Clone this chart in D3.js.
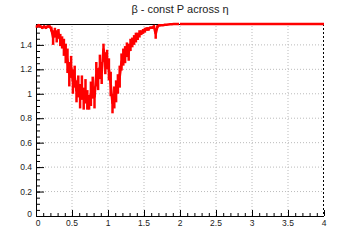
<!DOCTYPE html>
<html>
<head>
<meta charset="utf-8">
<script src="https://cdn.jsdelivr.net/npm/d3@7"></script>
<style>
  body { margin: 0; background: #fff; }
  svg { display: block; font-family: "Liberation Sans", Arial, sans-serif; }
</style>
</head>
<body>
<div id="chart"></div>
<script>
// bin centres (eta) and beta values, bin width 0.025
const binWidth = 0.025;
const betaValues = [
  1.55, 1.56, 1.55, 1.54, 1.55, 1.54, 1.55, 1.55, 1.53, 1.46,
  1.50, 1.47, 1.49, 1.44, 1.42, 1.38, 1.33, 1.27, 1.16, 1.22,
  1.10, 1.14, 1.02, 1.06, 0.98, 1.05, 0.96, 1.02, 0.95, 0.93,
  1.00, 1.05, 0.97, 1.16, 1.12, 1.22, 1.17, 1.37, 1.25, 1.28,
  1.20, 1.08, 0.92, 0.97, 1.02, 1.08, 1.14, 1.26, 1.30, 1.32,
  1.36, 1.34, 1.40, 1.42, 1.44, 1.46, 1.47, 1.49, 1.50, 1.51,
  1.52, 1.53, 1.53, 1.54, 1.54, 1.55, 1.49, 1.55, 1.56, 1.56,
  1.56, 1.565, 1.565, 1.567, 1.568, 1.569, 1.57, 1.57, 1.5708, 1.5708
];
const betaErrors = [
  0.01, 0.01, 0.01, 0.01, 0.01, 0.01, 0.01, 0.01, 0.02, 0.06,
  0.04, 0.05, 0.04, 0.05, 0.05, 0.07, 0.08, 0.10, 0.10, 0.09,
  0.10, 0.09, 0.09, 0.09, 0.10, 0.10, 0.09, 0.10, 0.08, 0.06,
  0.10, 0.09, 0.09, 0.10, 0.09, 0.10, 0.09, 0.04, 0.09, 0.08,
  0.09, 0.10, 0.08, 0.09, 0.09, 0.08, 0.09, 0.07, 0.07, 0.07,
  0.06, 0.07, 0.05, 0.04, 0.04, 0.04, 0.03, 0.03, 0.02, 0.02,
  0.02, 0.015, 0.015, 0.01, 0.01, 0.01, 0.04, 0.01, 0.01, 0.005,
  0.005, 0.004, 0.004, 0.003, 0.002, 0.002, 0.001, 0.001, 0, 0
];
const plateauEta = [2.0, 4.0];
const plateauBeta = [1.5708, 1.5708];

const xTicks = [0, 0.5, 1, 1.5, 2, 2.5, 3, 3.5, 4];
const yTicks = [0, 0.2, 0.4, 0.6, 0.8, 1, 1.2, 1.4];
const titleText = 'β - const P across η';

const width = 360, height = 240;
const margin = {left: 36, right: 36, top: 24, bottom: 24};

const svg = d3.select('#chart').append('svg')
  .attr('width', width).attr('height', height);

const x = d3.scaleLinear().domain([0, 4]).range([margin.left, width - margin.right]);
const y = d3.scaleLinear().domain([0, 1.5708]).range([height - margin.bottom, margin.top]);

// grid
svg.append('g').selectAll('line').data(xTicks.slice(1, -1)).enter().append('line')
  .attr('x1', d => x(d)).attr('x2', d => x(d))
  .attr('y1', y(0)).attr('y2', y.range()[1])
  .attr('stroke', '#bbb').attr('stroke-dasharray', '1,2');
svg.append('g').selectAll('line').data(yTicks.slice(1)).enter().append('line')
  .attr('x1', x(0)).attr('x2', x(4))
  .attr('y1', d => y(d)).attr('y2', d => y(d))
  .attr('stroke', '#bbb').attr('stroke-dasharray', '1,2');

// frame top / right
svg.append('line').attr('x1', x(0)).attr('x2', x(4)).attr('y1', y.range()[1] + 0.5).attr('y2', y.range()[1] + 0.5)
  .attr('stroke', '#000');
svg.append('line').attr('x1', x(4) - 0.5).attr('x2', x(4) - 0.5).attr('y1', y.range()[1]).attr('y2', y(0))
  .attr('stroke', '#000').attr('stroke-dasharray', '2,2');

// axes
const xMinor = d3.range(0, 4.0001, 0.1);
const yMinor = d3.range(0, 1.56, 0.05);

const xAxis = svg.append('g').attr('transform', `translate(0,${y(0)})`);
xAxis.call(d3.axisTop(x).tickValues(xMinor).tickSize(3).tickFormat(''));
xAxis.call(g => g.select('.domain').remove());
xAxis.append('g').call(d3.axisTop(x).tickValues(xTicks).tickSize(6).tickFormat(''))
  .call(g => g.select('.domain').remove());
xAxis.append('line').attr('x1', x(0)).attr('x2', x(4)).attr('y1', 0.5).attr('y2', 0.5).attr('stroke', '#000');
xAxis.selectAll('.xlab').data(xTicks).enter().append('text')
  .attr('class', 'xlab')
  .attr('x', d => x(d) + (d === 0 ? 2 : 0)).attr('y', 9.5)
  .attr('text-anchor', 'middle').attr('font-size', 8.5).attr('fill', '#222')
  .text(d => d3.format('')(d));

const yAxis = svg.append('g').attr('transform', `translate(${x(0)},0)`);
yAxis.call(d3.axisRight(y).tickValues(yMinor).tickSize(4).tickFormat(''))
  .call(g => g.select('.domain').remove());
yAxis.append('g').call(d3.axisRight(y).tickValues(yTicks).tickSize(8).tickFormat(''))
  .call(g => g.select('.domain').remove());
yAxis.append('line').attr('x1', 0.5).attr('x2', 0.5).attr('y1', y.range()[1]).attr('y2', y(0)).attr('stroke', '#000');
yAxis.selectAll('.ylab').data(yTicks).enter().append('text')
  .attr('class', 'ylab')
  .attr('x', -4).attr('y', d => y(d) + 3 - (d === 0 ? 2 : 0))
  .attr('text-anchor', 'end').attr('font-size', 8.5).attr('fill', '#222')
  .text(d => d3.format('')(d));

svg.selectAll('.tick line').attr('stroke', '#000');

// data
const pts = betaValues.map((v, i) => ({eta: (i + 0.5) * binWidth, v: v, e: betaErrors[i]}));

svg.append('g').selectAll('line').data(pts).enter().append('line')
  .attr('x1', d => x(d.eta)).attr('x2', d => x(d.eta))
  .attr('y1', d => y(d.v - d.e)).attr('y2', d => y(Math.min(d.v + d.e, 1.5708)))
  .attr('stroke', 'red').attr('stroke-width', 2.5);

svg.append('path').datum(pts)
  .attr('d', d3.line().x(d => x(d.eta)).y(d => y(d.v)))
  .attr('fill', 'none').attr('stroke', 'red').attr('stroke-width', 2.5);

svg.append('path').datum(plateauEta.map((e, i) => ({eta: e, v: plateauBeta[i]})))
  .attr('d', d3.line().x(d => x(d.eta)).y(d => y(d.v)))
  .attr('fill', 'none').attr('stroke', 'red').attr('stroke-width', 2.5);

// title
svg.append('text').attr('x', width / 2).attr('y', 13)
  .attr('text-anchor', 'middle').attr('font-size', 11).attr('fill', '#222')
  .text(titleText);
</script>
</body>
</html>
